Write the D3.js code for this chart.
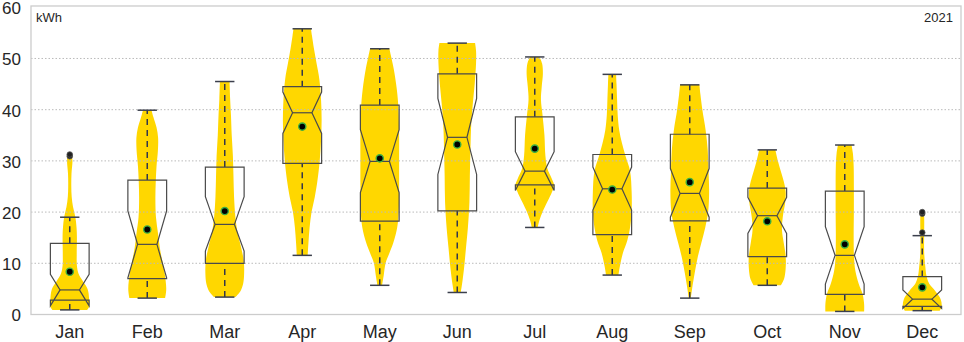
<!DOCTYPE html>
<html>
<head>
<meta charset="utf-8">
<script src="https://cdn.jsdelivr.net/npm/d3@7"></script>
<style>
  body { margin: 0; background: #fff; }
  text { font-family: "Liberation Sans", Arial, sans-serif; }
</style>
</head>
<body>
<div id="chart"></div>
<script>
// daily output per month (kWh)
var months = ["Jan","Feb","Mar","Apr","May","Jun","Jul","Aug","Sep","Oct","Nov","Dec"];
var whiskLo = [0.9, 3.2, 3.4, 11.55, 5.7, 4.3, 17.0, 7.7, 3.2, 5.7, 0.6, 0.75];
var q1      = [2.8, 7.0, 10.0, 29.5, 18.25, 20.25, 25.3, 15.6, 18.3, 11.3, 3.95, 1.6];
var median  = [4.8, 13.7, 17.6, 39.4, 29.9, 34.6, 28.0, 24.55, 23.65, 19.3, 11.55, 3.0];
var q3      = [13.9, 26.25, 28.8, 44.5, 40.9, 47.0, 38.6, 31.25, 35.2, 24.7, 24.1, 7.4];
var whiskHi = [19.0, 39.9, 45.5, 55.8, 51.9, 53.0, 50.3, 46.9, 44.85, 32.15, 33.1, 15.4];
var notchLo = [1.7, 7.15, 12.4, 35.35, 23.8, 27.35, 24.2, 20.4, 19.0, 15.85, 5.95, 1.2];
var notchHi = [7.85, 20.25, 23.0, 43.45, 36.1, 42.2, 31.8, 28.8, 28.5, 22.9, 17.15, 4.8];
var means   = [8.35, 16.6, 20.2, 36.7, 30.5, 33.2, 32.4, 24.4, 25.85, 18.2, 13.7, 5.3];
var outliers = [[30.9, 31.25], [], [], [], [], [], [], [], [], [], [], [16.0, 19.7, 20.0]];

// violin outline: [kWh, relative half width]
var violins = [
  [[0.88,0.9],[1.5,1.0],[3,1.0],[5,0.92],[6.5,0.68],[8,0.45],[9.5,0.37],[12,0.36],[15,0.37],[17,0.35],[19,0.29],[21,0.17],[23,0.1],[25,0.08],[27.5,0.09],[30,0.14],[31.25,0.1]],
  [[3.2,0.92],[5,0.98],[8,0.9],[10,0.8],[13,0.65],[16,0.55],[19,0.45],[22.5,0.42],[26,0.44],[29,0.48],[32,0.55],[34.5,0.56],[36.5,0.48],[38.5,0.32],[39.9,0.22]],
  [[3.4,0.55],[4.5,0.8],[6,0.95],[8,1.0],[10.5,0.98],[13,0.85],[16,0.66],[19,0.55],[23,0.48],[27,0.45],[31,0.42],[35,0.36],[39,0.32],[42,0.28],[45.5,0.25]],
  [[11.55,0.28],[14,0.32],[17,0.38],[20,0.48],[23,0.65],[26,0.78],[30,0.9],[34,0.97],[38,1.0],[42,0.97],[46,0.88],[49,0.74],[52,0.6],[54.5,0.5],[55.8,0.45]],
  [[5.7,0.12],[7.5,0.2],[10,0.3],[12,0.5],[14,0.7],[17,0.9],[20,0.98],[25,1.0],[30,1.0],[35,1.0],[40,0.97],[44,0.88],[48,0.72],[50.5,0.58],[51.9,0.5]],
  [[4.3,0.18],[6,0.25],[9,0.35],[13,0.45],[17,0.55],[22,0.63],[27,0.65],[32,0.68],[37,0.72],[41,0.8],[45,0.9],[49,0.97],[51.5,0.97],[53,0.92]],
  [[17,0.15],[18.5,0.25],[20,0.4],[22,0.65],[24,0.9],[25.2,1.0],[26.5,0.88],[28.5,0.65],[31,0.55],[35,0.5],[39,0.4],[42,0.32],[44.5,0.36],[47,0.42],[49,0.38],[50.3,0.25]],
  [[7.7,0.32],[9.5,0.4],[12,0.55],[14.5,0.78],[17,0.92],[20,1.0],[24,1.0],[28,0.92],[31,0.68],[33.5,0.5],[36,0.36],[39,0.28],[42,0.25],[45,0.22],[46.9,0.2]],
  [[3.2,0.05],[5,0.12],[8,0.25],[11,0.4],[14,0.6],[17,0.8],[20,0.95],[24,1.0],[28,0.97],[32,0.93],[36,0.82],[40,0.65],[43,0.55],[44.85,0.5]],
  [[5.7,0.7],[7,0.87],[9,0.95],[11.5,0.95],[14,0.85],[16.5,0.76],[19,0.8],[22,0.93],[24,0.95],[26,0.85],[28,0.7],[30,0.55],[32.15,0.42]],
  [[0.6,1.0],[2,1.0],[4,0.92],[6,0.72],[8.5,0.55],[11,0.48],[15,0.46],[20,0.47],[25,0.47],[29,0.46],[31.5,0.42],[33.1,0.35]],
  [[0.75,0.9],[1.5,1.0],[3,0.95],[4.6,0.67],[6,0.36],[7.5,0.22],[9.3,0.16],[12,0.1],[16,0.1],[19,0.1],[20.1,0.08]]
];
var yTicks = [0, 10, 20, 30, 40, 50, 60];
var unitLabel = "kWh";
var yearLabel = "2021";

var width = 964, height = 342;
var margin = {top: 6, right: 3, bottom: 28, left: 31};

var svg = d3.select("#chart").append("svg")
    .attr("width", width)
    .attr("height", height);

var x = d3.scaleBand().domain(months).range([margin.left, width - margin.right]);
var y = d3.scaleLinear().domain([0, 60.25]).range([height - margin.bottom + 0.5, margin.top]);

var bw = x.bandwidth();
var boxW = bw * 0.5;
var vHalf = bw * 0.25;

// violins
var area = d3.area()
    .curve(d3.curveCatmullRom)
    .y(function(d) { return y(d[0]); });

months.forEach(function(m, i) {
  var cx = x(m) + bw / 2;
  area.x0(function(d) { return cx - d[1] * vHalf; })
      .x1(function(d) { return cx + d[1] * vHalf; });
  svg.append("path")
      .attr("d", area(violins[i]))
      .attr("fill", "#ffd700");
});

// grid
svg.append("g").selectAll("line")
    .data(yTicks.filter(function(t) { return t > 0 && t < 60; }))
    .enter().append("line")
    .attr("x1", margin.left).attr("x2", width - margin.right)
    .attr("y1", function(d) { return y(d); })
    .attr("y2", function(d) { return y(d); })
    .attr("stroke", "#bbb")
    .attr("stroke-dasharray", "1.5,2")
    .attr("stroke-width", 1);

// frame
svg.append("rect")
    .attr("x", margin.left).attr("y", margin.top)
    .attr("width", width - margin.right - margin.left)
    .attr("height", y(0) - margin.top)
    .attr("fill", "none")
    .attr("stroke", "#ccc")
    .attr("stroke-width", 1.3);

// boxes
months.forEach(function(m, i) {
  var cx = x(m) + bw / 2,
      l = cx - boxW / 2, r = cx + boxW / 2,
      nl = cx - boxW / 4, nr = cx + boxW / 4;
  var g = svg.append("g");

  // whiskers
  [[whiskLo[i], q1[i]], [q3[i], whiskHi[i]]].forEach(function(w) {
    g.append("line")
        .attr("x1", cx).attr("x2", cx)
        .attr("y1", y(w[0])).attr("y2", y(w[1]))
        .attr("stroke", "#33374a")
        .attr("stroke-width", 1.5)
        .attr("stroke-dasharray", "6,5");
  });
  [whiskLo[i], whiskHi[i]].forEach(function(v) {
    g.append("line")
        .attr("x1", cx - boxW / 4).attr("x2", cx + boxW / 4)
        .attr("y1", y(v)).attr("y2", y(v))
        .attr("stroke", "#3b3f4c")
        .attr("stroke-width", 1.5);
  });

  // notched box
  var pts = [
    [l, q1[i]], [l, notchLo[i]], [nl, median[i]], [l, notchHi[i]], [l, q3[i]],
    [r, q3[i]], [r, notchHi[i]], [nr, median[i]], [r, notchLo[i]], [r, q1[i]]
  ];
  g.append("path")
      .attr("d", d3.line().x(function(d) { return d[0]; }).y(function(d) { return y(d[1]); })(pts) + "Z")
      .attr("fill", "none")
      .attr("stroke", "#4a4a4a")
      .attr("stroke-width", 1.2);
  g.append("line")
      .attr("x1", nl).attr("x2", nr)
      .attr("y1", y(median[i])).attr("y2", y(median[i]))
      .attr("stroke", "#4a4a4a")
      .attr("stroke-width", 1.2);

  // outliers
  g.selectAll("circle.out")
      .data(outliers[i])
      .enter().append("circle")
      .attr("class", "out")
      .attr("cx", cx)
      .attr("cy", function(d) { return y(d); })
      .attr("r", 2.8)
      .attr("fill", "#222")
      .attr("stroke", "#555")
      .attr("stroke-width", 0.8);

  // mean
  g.append("circle")
      .attr("cx", cx)
      .attr("cy", y(means[i]))
      .attr("r", 3.6)
      .attr("fill", "#000")
      .attr("stroke", "#3cb043")
      .attr("stroke-width", 1.4);
});

// axes labels
svg.append("g").selectAll("text")
    .data(yTicks)
    .enter().append("text")
    .attr("x", 21)
    .attr("y", function(d) { return y(d); })
    .attr("dy", "0.41em")
    .attr("text-anchor", "end")
    .attr("font-size", 17)
    .attr("fill", "#262626")
    .text(function(d) { return d; });

svg.append("g").selectAll("text")
    .data(months)
    .enter().append("text")
    .attr("x", function(d) { return x(d) + bw / 2; })
    .attr("y", 338)
    .attr("text-anchor", "middle")
    .attr("font-size", 18)
    .attr("fill", "#262626")
    .text(function(d) { return d; });

svg.append("text")
    .attr("x", margin.left + 5)
    .attr("y", 22)
    .attr("font-size", 13)
    .attr("fill", "#262626")
    .text(unitLabel);

svg.append("text")
    .attr("x", width - margin.right - 8)
    .attr("y", 22)
    .attr("text-anchor", "end")
    .attr("font-size", 13)
    .attr("fill", "#262626")
    .text(yearLabel);
</script>
</body>
</html>
